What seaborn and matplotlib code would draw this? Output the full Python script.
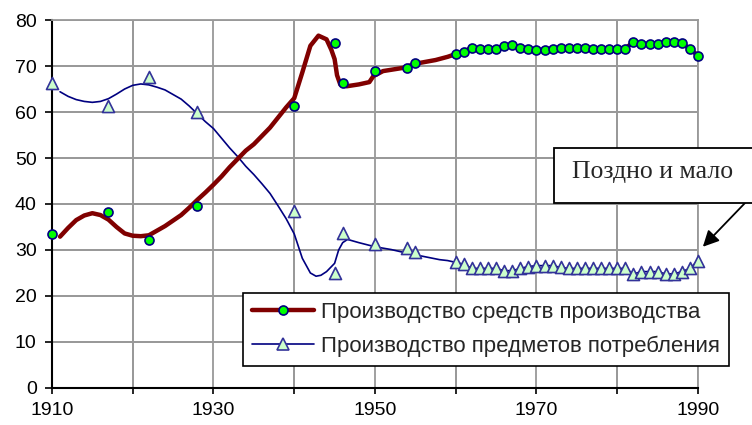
import matplotlib
matplotlib.use("Agg")
import matplotlib.pyplot as plt
import seaborn as sns
from matplotlib.lines import Line2D
from matplotlib.patches import Rectangle
from matplotlib.ticker import FixedLocator, MultipleLocator

sns.set_style("whitegrid", {"grid.color": "#999999", "axes.edgecolor": "black"})
plt.rcParams['font.family'] = ['Liberation Sans', 'DejaVu Sans']

# --- data ---
pt_years = [1910, 1917, 1922, 1928, 1940, 1945, 1946, 1950, 1954, 1955,
            1960, 1961, 1962, 1963, 1964, 1965, 1966, 1967, 1968, 1969,
            1970, 1971, 1972, 1973, 1974, 1975, 1976, 1977, 1978, 1979,
            1980, 1981, 1982, 1983, 1984, 1985, 1986, 1987, 1988, 1989, 1990]
heavy_pts = [33.5, 38.3, 32.2, 39.6, 61.3, 74.9, 66.2, 68.9, 69.5, 70.6,
             72.6, 73.1, 74.0, 73.8, 73.8, 73.8, 74.4, 74.6, 74.0, 73.8,
             73.5, 73.5, 73.8, 74.0, 74.0, 74.0, 74.0, 73.8, 73.8, 73.8,
             73.8, 73.8, 75.2, 74.8, 74.8, 74.8, 75.3, 75.3, 74.9, 73.8, 72.2]
light_pts = [66.2, 61.3, 67.6, 60.1, 38.5, 24.9, 33.8, 31.2, 30.4, 29.5,
             27.3, 26.9, 26.0, 26.0, 26.0, 26.0, 25.5, 25.5, 26.0, 26.4,
             26.6, 26.6, 26.6, 26.2, 26.0, 26.0, 26.0, 26.0, 26.0, 26.0,
             26.0, 26.0, 24.8, 25.3, 25.3, 25.3, 24.8, 24.8, 25.3, 26.0, 27.7]

# smoothed trend lines up to 1960 (after that they run through the points)
heavy_line_x = [1911, 1912, 1913, 1914, 1915, 1916, 1917, 1918, 1919, 1920,
                1921, 1922, 1923, 1924, 1925, 1926, 1927, 1928, 1929, 1930,
                1931, 1932, 1933, 1934, 1935, 1936, 1937, 1938, 1939, 1940,
                1941, 1942, 1943, 1944, 1944.6, 1945, 1945.3, 1945.7, 1946.5,
                1948, 1949.3, 1949.8, 1951, 1953.5, 1955, 1957.5, 1959]
heavy_line_y = [32.9, 34.8, 36.5, 37.5, 38.0, 37.6, 36.6, 35.0, 33.6, 33.1,
                33.0, 33.2, 34.2, 35.2, 36.4, 37.6, 39.2, 40.9, 42.5, 44.2,
                46.0, 48.0, 49.8, 51.6, 53.0, 54.8, 56.6, 58.8, 61.0, 63.0,
                68.6, 74.4, 76.6, 75.8, 73.5, 71.5, 68.0, 66.0, 65.6,
                66.0, 66.5, 67.8, 68.9, 69.6, 70.5, 71.3, 72.0]
light_line_x = [1911, 1912, 1913, 1914, 1915, 1916, 1917, 1918, 1919, 1920,
                1921, 1922, 1923, 1924, 1925, 1926, 1927, 1928, 1929, 1930,
                1931, 1932, 1933, 1934, 1935, 1936, 1937, 1938, 1939, 1940,
                1941, 1942, 1942.7, 1943.3, 1944, 1945, 1945.5, 1946, 1946.6,
                1948, 1950, 1952, 1954, 1956, 1958, 1959]
light_line_y = [64.4, 63.4, 62.7, 62.3, 62.1, 62.3, 62.9, 63.9, 65.0, 65.8,
                66.1, 65.9, 65.4, 64.8, 63.8, 62.8, 61.3, 59.6, 57.9, 56.4,
                54.3, 52.2, 50.3, 48.2, 46.4, 44.4, 42.3, 39.6, 36.8, 33.5,
                28.2, 25.0, 24.3, 24.5, 25.3, 27.1, 30.0, 31.6, 32.3,
                31.6, 30.7, 30.1, 29.3, 28.6, 27.9, 27.7]

x_labels = [1910, 1930, 1950, 1970, 1990]
labels = ["Производство средств производства",
          "Производство предметов потребления"]
note = "Поздно и мало"

heavy_x = heavy_line_x + pt_years[10:]
heavy_y = heavy_line_y + heavy_pts[10:]
light_x = light_line_x + pt_years[10:]
light_y = light_line_y + light_pts[10:]

DARK_RED = '#800000'
NAVY = '#000080'
GRID = '#999999'

fig = plt.figure(figsize=(7.52, 4.25), dpi=100)
ax = fig.add_axes([0.0691, 0.0871, 0.8591, 0.8658])

sns.lineplot(x=light_x, y=light_y, ax=ax, color=NAVY, lw=1.2,
             estimator=None, sort=False, legend=False, zorder=3)
sns.lineplot(x=heavy_x, y=heavy_y, ax=ax, color=DARK_RED, lw=3.2,
             estimator=None, sort=False, legend=False, zorder=3)
sns.scatterplot(x=pt_years, y=light_pts, ax=ax, marker='^', s=75,
                color='#CCFFCC', edgecolor='#333399', linewidth=1.2,
                zorder=4, clip_on=False, legend=False)
sns.scatterplot(x=pt_years, y=heavy_pts, ax=ax, marker='o', s=42,
                color='#00FF00', edgecolor=NAVY, linewidth=1.2,
                zorder=5, clip_on=False, legend=False)

ax.set_xlim(1910, 1990)
ax.set_ylim(0, 80)
ax.xaxis.set_major_locator(FixedLocator(x_labels))
ax.xaxis.set_minor_locator(MultipleLocator(10))
ax.yaxis.set_major_locator(MultipleLocator(10))
fig.canvas.draw()

for s in ['top', 'right']:
    ax.spines[s].set_color(GRID)
    ax.spines[s].set_linewidth(1.3)
for s in ['left', 'bottom']:
    ax.spines[s].set_color('black')
    ax.spines[s].set_linewidth(1.5)
ax.tick_params(axis='x', which='major', bottom=True, length=4, width=1.2,
               pad=6, labelsize=14, labelcolor='black', color='black')
ax.tick_params(axis='x', which='minor', bottom=True, length=4, width=1.2,
               color='black')
ax.tick_params(axis='y', left=True, length=5, width=1.2, pad=6,
               labelsize=14, labelcolor='black', color='black')
ax.set_xlabel('')
ax.set_ylabel('')
ax.grid(True, which='major', color=GRID, linewidth=1.3)
ax.xaxis.grid(True, which='minor', color=GRID, linewidth=1.3)
# grid drawn again as plain rules so it always shows
for yv in ax.get_yticks():
    ax.axhline(yv, color=GRID, lw=1.3, zorder=1.5)
for xv in ax.xaxis.get_ticklocs(minor=True):
    ax.axvline(xv, color=GRID, lw=1.3, zorder=1.5)
ax.set_xlim(1910, 1990)
ax.set_ylim(0, 80)

handles = [
    Line2D([], [], color=DARK_RED, lw=3.2, marker='o', ms=6.5,
           mfc='#00FF00', mec=NAVY, mew=1.2),
    Line2D([], [], color=NAVY, lw=1.2, marker='^', ms=8.5,
           mfc='#CCFFCC', mec='#333399', mew=1.2),
]
leg = ax.legend(handles, labels, loc='upper left',
                bbox_to_anchor=(243 / 752, (425 - 292.7) / 425),
                bbox_transform=fig.transFigure, borderaxespad=0,
                fontsize=16, frameon=True, fancybox=False, framealpha=1,
                edgecolor='black', handlelength=2.8, handletextpad=0.3,
                labelspacing=0.6, borderpad=0.4)
leg.get_frame().set_linewidth(1.2)
leg.set_zorder(10)

# callout box
fig.add_artist(Rectangle((554 / 752, (425 - 203) / 425), 0.3, 55 / 425,
                         transform=fig.transFigure, facecolor='white',
                         edgecolor='black', lw=1.3, zorder=6))
fig.text(572 / 752, (425 - 178) / 425, note, fontsize=18.5,
         family=['Liberation Serif', 'DejaVu Serif'], va='baseline',
         zorder=7)
ax.annotate('', xy=(1990.6, 30.7), xycoords='data',
            xytext=(745 / 752, (425 - 203) / 425),
            textcoords='figure fraction',
            arrowprops=dict(arrowstyle='-|>', color='black', lw=1.3,
                            mutation_scale=24, shrinkA=0, shrinkB=0),
            annotation_clip=False, zorder=8)

fig.savefig('out.png', dpi=100)
